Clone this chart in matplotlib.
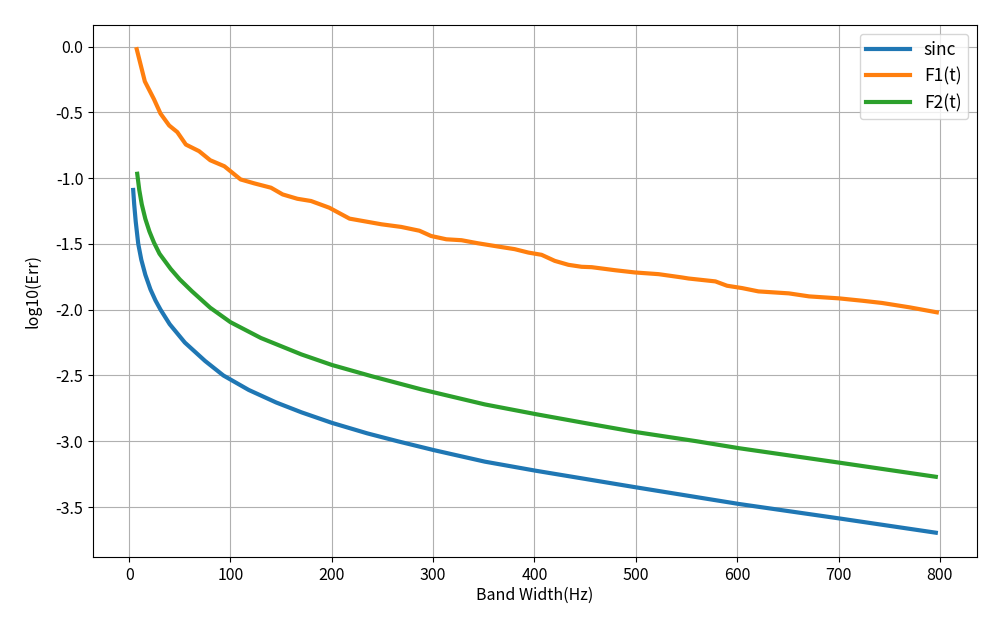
import matplotlib
matplotlib.use("Agg")
import matplotlib.pyplot as plt

plt.rcParams['font.family'] = ['Noto Sans CJK SC', 'DejaVu Sans']
plt.rcParams['axes.unicode_minus'] = False

# values
sinc_x = [4, 5, 6.5, 9, 12, 16, 21, 26, 31, 40, 55, 75, 93, 118, 145, 170,
          200, 235, 265, 301, 351, 402, 453, 500, 602, 702, 796]
sinc_y = [-1.09, -1.20, -1.33, -1.50, -1.62, -1.735, -1.845, -1.93, -2.0,
          -2.11, -2.25, -2.39, -2.50, -2.61, -2.705, -2.78, -2.86, -2.94,
          -3.0, -3.068, -3.155, -3.225, -3.29, -3.35, -3.477, -3.588, -3.695]

f1_x = [7.5, 15.5, 24.5, 31, 39.5, 47.5, 56, 69, 80, 94, 110, 123.5, 140,
        151.5, 166, 179.5, 197.5, 217.5, 249, 268.5, 286.5, 298, 313, 328,
        344, 364, 380.5, 394, 407, 420, 433.5, 446.5, 456.5, 479.5, 499,
        522.5, 545.5, 552, 578.5, 590, 605, 621, 651, 671, 700.5, 723.5,
        743, 770, 797]
f1_y = [-0.02, -0.265, -0.40, -0.51, -0.60, -0.65, -0.745, -0.795, -0.864,
        -0.91, -1.01, -1.04, -1.073, -1.124, -1.157, -1.174, -1.225, -1.308,
        -1.351, -1.371, -1.40, -1.44, -1.465, -1.472, -1.495, -1.52, -1.54,
        -1.566, -1.583, -1.629, -1.659, -1.674, -1.677, -1.70, -1.717,
        -1.73, -1.755, -1.763, -1.785, -1.818, -1.836, -1.861, -1.876,
        -1.899, -1.914, -1.932, -1.949, -1.982, -2.02]

f2_x = [8, 10, 12.5, 16, 20, 24.5, 30, 41, 50, 62, 80, 100, 130, 170, 200,
        239, 288, 351, 402, 453, 500, 560, 602, 702, 796]
f2_y = [-0.967, -1.09, -1.2, -1.31, -1.405, -1.49, -1.575, -1.69, -1.77,
        -1.86, -1.985, -2.095, -2.215, -2.34, -2.42, -2.505, -2.605, -2.72,
        -2.795, -2.866, -2.93, -3.0, -3.053, -3.164, -3.27]

fig, ax = plt.subplots(figsize=(10, 6.25), dpi=100)
fig.subplots_adjust(left=0.093, right=0.977, bottom=0.109, top=0.96)

ax.plot(sinc_x, sinc_y, lw=3, label='sinc')
ax.plot(f1_x, f1_y, lw=3, label='F1(t)')
ax.plot(f2_x, f2_y, lw=3, label='F2(t)')

ax.set_xlabel('Band Width(Hz)', fontsize=11.5, labelpad=2)
ax.set_ylabel('log10(Err)', fontsize=11.5, labelpad=10)
ax.tick_params(labelsize=11.5)
ax.grid(True)
ax.legend(loc='upper right', fontsize=12.5, handlelength=2.5)

fig.savefig('out.png')
